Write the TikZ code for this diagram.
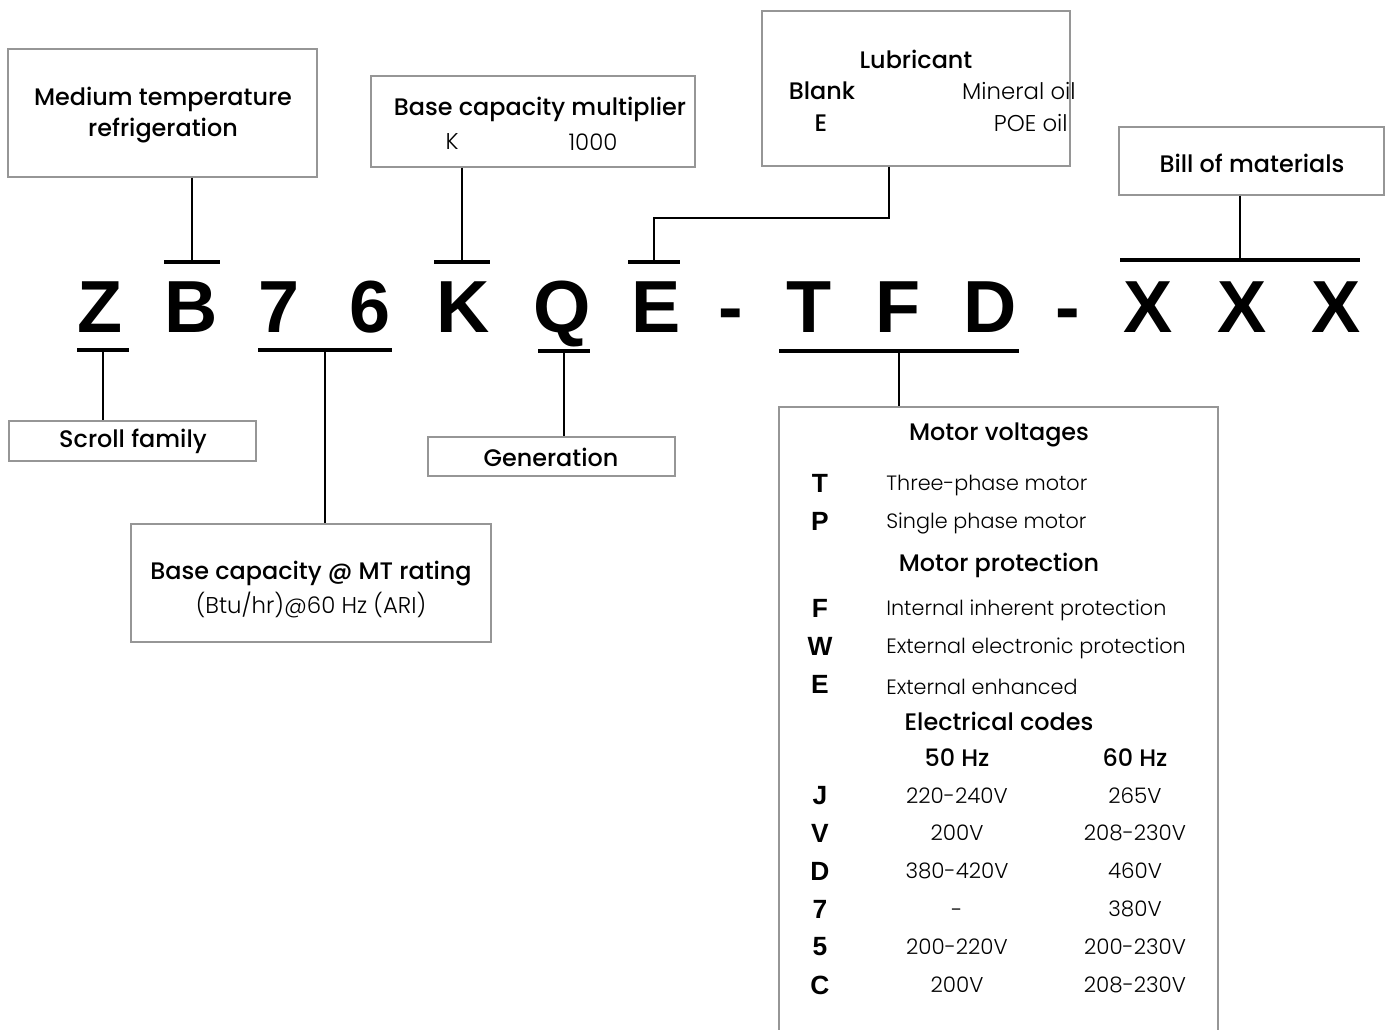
\documentclass[tikz,border=0pt]{standalone}
\usepackage{fontspec}
\setmainfont{Poppins}[BoldFont={Poppins Medium}]
\newfontfamily\lightfont{Poppins Light}
\newfontfamily\arialfont{Liberation Sans}
\usetikzlibrary{fit}
\definecolor{boxgray}{RGB}{150, 150, 150}

\begin{document}
\begin{tikzpicture}[x=0.02cm, y=-0.02cm,
    box/.style={draw=boxgray, line width=0.8pt, inner sep=0pt},
    bar/.style={fill=black, inner sep=0pt, minimum height=2.4pt},
    link/.style={line width=1.2pt},
    lbl/.style={font=\bfseries\fontsize{13.6}{16}\selectfont, inner sep=0pt},
    thin/.style={font=\lightfont\fontsize{13}{16}\selectfont, inner sep=0pt},
    value/.style={font=\lightfont\fontsize{12.2}{15}\selectfont, inner sep=0pt},
    desc/.style={font=\lightfont\fontsize{11.8}{14}\selectfont, inner sep=0pt, anchor=west, yshift=-1.6pt},
    code/.style={font=\arialfont\bfseries\fontsize{15}{18}\selectfont, inner sep=0pt},
    letter/.style={font=\arialfont\bfseries\fontsize{42}{42}\selectfont, inner sep=0pt, anchor=base}]
    \useasboundingbox (0,0) rectangle (1387,1030);

    % model code
    \node[letter] (lZ) at (100,333) {Z};
    \node[letter] (lB) at (191,333) {B};
    \node[letter] (l7) at (279,333) {7};
    \node[letter] (l6) at (370,333) {6};
    \node[letter] (lK) at (463,333) {K};
    \node[letter] (lQ) at (562,333) {Q};
    \node[letter] (lE) at (656,333) {E};
    \node[letter] (dash1) at (731,333) {-};
    \node[letter] (lT) at (809,333) {T};
    \node[letter] (lF) at (898,333) {F};
    \node[letter] (lD) at (990,333) {D};
    \node[letter] (dash2) at (1068,333) {-};
    \node[letter] (lX1) at (1148,333) {X};
    \node[letter] (lX2) at (1242,333) {X};
    \node[letter] (lX3) at (1336,333) {X};

    % bars over and under the code
    \node[bar, minimum width=1.14cm] (barB) at (192,262) {};
    \node[bar, minimum width=1.14cm] (barK) at (462,262) {};
    \node[bar, minimum width=1.04cm] (barE) at (654,262) {};
    \node[bar, minimum width=4.8cm] (barX) at (1240,260) {};
    \node[bar, minimum width=1.06cm] (barZ) at (103,350) {};
    \node[bar, minimum width=2.7cm] (bar76) at (325,350) {};
    \node[bar, minimum width=1.06cm] (barQ) at (564,351) {};
    \node[bar, minimum width=4.8cm] (barTFD) at (899,351) {};

    % upper boxes
    \node[box, fit={(8,49) (317,177)}] (mtr) {};
    \node[lbl] (mtr1) at (163,99) {Medium temperature};
    \node[lbl] (mtr2) at (163,131) {refrigeration};
    \node[box, fit={(371,76) (695,167)}] (bcm) {};
    \node[lbl] (bcmT) at (540,109) {Base capacity multiplier};
    \node[thin] (bcmK) at (452,142) {K};
    \node[thin] (bcmV) at (593,142) {1000};
    \node[box, fit={(762,11) (1070,166)}] (lub) {};
    \node[lbl] (lubT) at (916,59) {Lubricant};
    \node[lbl] (lubB) at (822,91) {Blank};
    \node[thin, anchor=east] (lubM) at (1076,91) {Mineral oil};
    \node[lbl] (lubE) at (821,123) {E};
    \node[thin, anchor=east] (lubP) at (1068,123) {POE oil};
    \node[box, fit={(1119,127) (1384,195)}] (bom) {};
    \node[lbl] (bomT) at (1252,163) {Bill of materials};

    % lower boxes
    \node[box, fit={(9,421) (256,461)}] (scroll) {};
    \node[lbl] (scrollT) at (133,441) {Scroll family};
    \node[box, fit={(428,437) (675,476)}] (gen) {};
    \node[lbl] (genT) at (551,457) {Generation};
    \node[box, fit={(131,524) (491,642)}] (bcmt) {};
    \node[lbl] (bcmtT) at (311,574) {Base capacity @ MT rating};
    \node[thin] (bcmtS) at (311,605) {(Btu/hr)@60 Hz (ARI)};

    % motor box
    \node[box, fit={(779,407) (1218,1060)}] (motor) {};
    \node[lbl] (mvT) at (999,435) {Motor voltages};
    \node[code] (cT) at (820,483) {T};
    \node[desc] (dT) at (886,483) {Three-phase motor};
    \node[code] (cP) at (820,521) {P};
    \node[desc] (dP) at (886,521) {Single phase motor};
    \node[lbl] (mpT) at (999,565) {Motor protection};
    \node[code] (cF) at (820,608) {F};
    \node[desc] (dF) at (886,608) {Internal inherent protection};
    \node[code] (cW) at (820,646) {W};
    \node[desc] (dW) at (886,646) {External electronic protection};
    \node[code] (cE) at (820,684) {E};
    \node[desc] (dE) at (886,684) {External enhanced};
    \node[lbl] (ecT) at (999,721) {Electrical codes};
    \node[lbl] (hz50) at (957,758) {50 Hz};
    \node[lbl] (hz60) at (1135,758) {60 Hz};
    \node[code] (cJ) at (820,796) {J};
    \node[value] (j50) at (957,796) {220-240V};
    \node[value] (j60) at (1135,796) {265V};
    \node[code] (cV) at (820,833) {V};
    \node[value] (v50) at (957,833) {200V};
    \node[value] (v60) at (1135,833) {208-230V};
    \node[code] (cD) at (820,871) {D};
    \node[value] (d50) at (957,871) {380-420V};
    \node[value] (d60) at (1135,871) {460V};
    \node[code] (c7) at (820,909) {7};
    \node[value] (s50) at (957,913) {-};
    \node[value] (s60) at (1135,909) {380V};
    \node[code] (c5) at (820,947) {5};
    \node[value] (f50) at (957,947) {200-220V};
    \node[value] (f60) at (1135,947) {200-230V};
    \node[code] (cC) at (820,985) {C};
    \node[value] (k50) at (957,985) {200V};
    \node[value] (k60) at (1135,985) {208-230V};

    % connectors
    \coordinate (lubc) at (889,218);
    \draw[link] (mtr.south -| barB) -- (barB);
    \draw[link] (bcm.south -| barK) -- (barK);
    \draw[link] (lub.south -| lubc) -- (lubc) -- (lubc -| barE) -- (barE);
    \draw[link] (bom.south -| barX) -- (barX);
    \draw[link] (barZ) -- (barZ |- scroll.north);
    \draw[link] (bar76) -- (bar76 |- bcmt.north);
    \draw[link] (barQ) -- (barQ |- gen.north);
    \draw[link] (barTFD) -- (barTFD |- motor.north);
\end{tikzpicture}
\end{document}
